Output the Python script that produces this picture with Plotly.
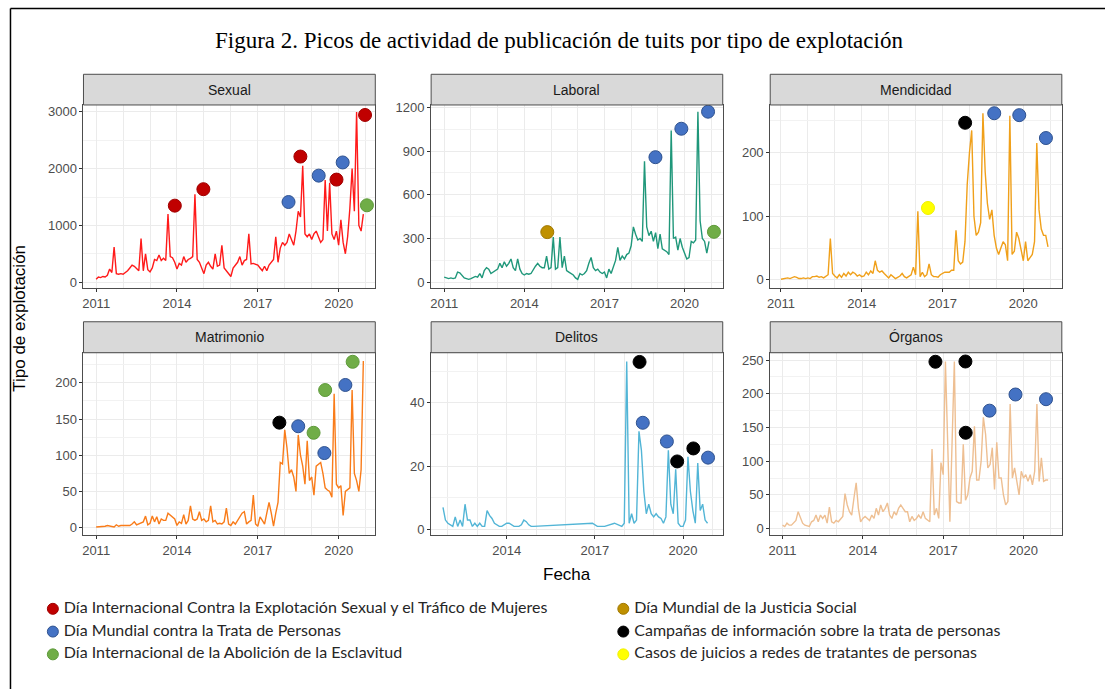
import plotly.graph_objects as go

# ---------------- DATA ----------------
title_text = "Figura 2. Picos de actividad de publicación de tuits por tipo de explotación"
panel_names = ["Sexual", "Laboral", "Mendicidad", "Matrimonio", "Delitos", "Órganos"]
x_title = "Fecha"
y_title = "Tipo de explotación"
year_ticks = [2011, 2014, 2017, 2020]
start_year = 2011  # monthly series start in January 2011 (120 months)

sexual = [
    50, 90, 80, 100, 90, 120, 230, 170, 620, 150, 140, 150,
    140, 170, 200, 250, 300, 280, 230, 200, 770, 200, 500, 220,
    180, 250, 400, 380, 480, 380, 420, 380, 1200, 450, 430, 350,
    230, 330, 300, 450, 350, 400, 420, 450, 1550, 400, 350, 250,
    150, 300, 350, 280, 230, 500, 280, 300, 650, 250, 200, 170,
    100, 250, 300, 350, 450, 300, 380, 400, 850, 320, 330, 320,
    300, 250, 200, 280, 200, 300, 350, 400, 800, 350, 600, 700,
    650, 700, 850, 750, 650, 900, 1250, 1150, 2050, 850, 800, 850,
    750, 850, 900, 800, 700, 750, 1800, 900, 1750, 850, 750, 900,
    650, 1100, 700, 500, 800, 1300, 2000, 1250, 3000, 1000, 900, 1200,
]
laboral = [
    35, 30, 25, 30, 25, 30, 70, 65, 50, 30, 25, 20,
    25, 30, 40, 35, 60, 30, 80, 100, 90, 60, 70, 80,
    90, 130, 100, 140, 110, 130, 160, 100, 80, 160, 90, 60,
    50, 60, 55, 60, 90, 110, 130, 110, 100, 100, 180, 90,
    100, 310, 90, 100, 310, 100, 180, 80, 70, 60, 50, 30,
    20, 60, 50, 60, 80, 130, 170, 100, 80, 90, 70, 60,
    70, 30, 90, 60, 100, 150, 240, 150, 180, 160, 190, 200,
    250, 380, 330, 290, 300, 280, 830, 380, 320, 350, 280, 340,
    230, 330, 230, 220, 210, 190, 1040, 300, 310, 220, 300, 240,
    200, 160, 170, 280, 270, 290, 1170, 420, 300, 280, 200, 280,
]
mendicidad = [
    1, 2, 3, 3, 2, 3, 5, 4, 2, 2, 3, 2,
    3, 2, 5, 5, 6, 4, 5, 3, 5, 8, 65, 10,
    6, 3, 8, 4, 10, 6, 12, 8, 12, 10, 6, 8,
    5, 6, 12, 8, 14, 10, 30, 15, 12, 14, 10, 6,
    3, 8, 5, 2, 4, 6, 10, 5, 3, 5, 8, 20,
    8, 108, 5, 12, 5, 8, 25, 8, 5, 5, 4, 8,
    10, 12, 12, 12, 15, 15, 78, 30, 25, 28, 60, 150,
    200, 235, 100, 70, 75, 90, 262, 170, 120, 95, 110, 70,
    50, 40, 50, 60, 55, 30, 258, 40, 45, 75, 65, 50,
    30, 60, 30, 35, 40, 60, 215, 110, 80, 70, 70, 52,
]
matrimonio = [
    1, 1, 2, 1, 2, 3, 2, 2, 1, 4, 2, 3,
    3, 2, 3, 3, 5, 8, 4, 5, 6, 8, 16, 4,
    6, 16, 8, 15, 5, 12, 10, 10, 20, 17, 14, 12,
    3, 8, 6, 18, 5, 10, 30, 12, 10, 12, 22, 10,
    12, 8, 10, 30, 8, 10, 5, 6, 5, 8, 27, 5,
    3, 8, 5, 10, 15, 20, 22, 5, 8, 10, 45, 5,
    2, 15, 10, 5, 20, 35, 20, 2, 20, 35, 90, 88,
    135, 110, 75, 80, 70, 50, 128, 100, 85, 60, 120, 65,
    70, 45, 85, 88, 90, 75, 55, 52, 50, 42, 185, 60,
    55, 58, 17, 50, 52, 55, 190, 75, 65, 50, 80, 230,
]
organos = [
    5, 3, 8, 5, 5, 8, 12, 25, 15, 8, 5, 4,
    3, 10, 12, 20, 10, 20, 15, 20, 8, 32, 10, 8,
    12, 10, 15, 18, 52, 35, 25, 20, 45, 68, 30, 10,
    15, 18, 15, 12, 20, 15, 30, 20, 35, 25, 30, 38,
    20, 15, 25, 20, 30, 35, 30, 25, 25, 10, 18, 12,
    15, 20, 15, 25, 15, 12, 10, 118, 20, 30, 15, 98,
    80, 248, 130, 10, 130, 248, 40, 38, 38, 125, 42, 50,
    75, 85, 152, 72, 72, 100, 165, 140, 90, 95, 120, 58,
    128, 75, 75, 50, 35, 40, 185, 75, 90, 70, 50, 85,
    75, 80, 70, 80, 65, 85, 185, 70, 105, 70, 72, 72,
]
# Delitos has gaps: explicit months
delitos_months = [
    "2011-11", "2011-12", "2012-01", "2012-02", "2012-03", "2012-04", "2012-05", "2012-06",
    "2012-07", "2012-08", "2012-09", "2012-10", "2012-11", "2012-12", "2013-01", "2013-02",
    "2013-03", "2013-04", "2013-05", "2013-06", "2013-07", "2013-08", "2013-09", "2013-10",
    "2013-11", "2013-12", "2014-01", "2014-02", "2014-03", "2014-04", "2014-05", "2014-06",
    "2014-07", "2014-08", "2014-09", "2014-10", "2014-11", "2014-12", "2016-12", "2017-02",
    "2017-05", "2017-09", "2017-12", "2018-01", "2018-02", "2018-03", "2018-04", "2018-05",
    "2018-06", "2018-07", "2018-08", "2018-09", "2018-10", "2018-11", "2018-12", "2019-01",
    "2019-02", "2019-03", "2019-04", "2019-05", "2019-06", "2019-07", "2019-08", "2019-09",
    "2019-10", "2019-11", "2019-12", "2020-01", "2020-02", "2020-03", "2020-04", "2020-05",
    "2020-06", "2020-07", "2020-08", "2020-09", "2020-10", "2020-11",
]
delitos = [
    7, 3, 2, 1.5, 1, 4, 1, 3,
    1, 8, 3, 3, 1, 2, 1, 2,
    1, 1, 6, 4.5, 3.5, 2, 1.5, 1,
    1, 1.5, 2, 2, 1.5, 1, 1, 1,
    1.5, 3, 2.5, 1.5, 1, 1, 2, 1,
    1, 2, 1, 2, 53, 2, 5, 2,
    3, 31, 25, 12, 5, 8, 5, 4,
    5, 4, 3.5, 2, 4, 25, 8, 5,
    19, 2, 1, 1, 3, 23, 12, 6,
    2, 21, 6, 8, 3, 2,
]

# Event markers (decimal year, value, event code)
sexual_evt_x = [2013.92, 2014.98, 2018.14, 2018.58, 2019.26, 2019.92, 2020.15, 2020.98, 2021.05]
sexual_evt_y = [1348, 1638, 1412, 2213, 1877, 1807, 2109, 2946, 1354]
sexual_evt_t = ["EX", "EX", "TP", "EX", "TP", "EX", "TP", "EX", "AE"]

laboral_evt_x = [2014.86, 2018.91, 2019.88, 2020.88, 2021.10]
laboral_evt_y = [344, 858, 1053, 1170, 346]
laboral_evt_t = ["JS", "TP", "TP", "TP", "AE"]

mendicidad_evt_x = [2016.46, 2017.84, 2018.92, 2019.85, 2020.84]
mendicidad_evt_y = [113, 247, 262, 259, 223]
mendicidad_evt_t = ["CJ", "CI", "TP", "TP", "TP"]

matrimonio_evt_x = [2017.80, 2018.50, 2019.07, 2019.47, 2019.50, 2020.25, 2020.52]
matrimonio_evt_y = [145, 140, 131, 103, 190, 197, 229]
matrimonio_evt_t = ["CI", "TP", "AE", "TP", "AE", "TP", "AE"]

delitos_evt_x = [2018.52, 2018.63, 2019.45, 2019.80, 2020.35, 2020.85]
delitos_evt_y = [52.9, 33.7, 27.8, 21.5, 25.6, 22.7]
delitos_evt_t = ["CI", "TP", "TP", "CI", "CI", "TP"]

organos_evt_x = [2016.71, 2017.83, 2017.84, 2018.73, 2019.70, 2020.84]
organos_evt_y = [247.6, 248, 142.2, 175, 199, 192]
organos_evt_t = ["CI", "CI", "CI", "TP", "TP", "TP"]

event_codes = ["EX", "TP", "AE", "JS", "CI", "CJ"]
event_labels = [
    "Día Internacional Contra la Explotación Sexual y el Tráfico de Mujeres",
    "Día Mundial contra la Trata de Personas",
    "Día Internacional de la Abolición de la Esclavitud",
    "Día Mundial de la Justicia Social",
    "Campañas de información sobre la trata de personas",
    "Casos de juicios a redes de tratantes de personas",
]

# ---------------- STYLE ----------------
W, H = 1105, 691
line_colors = ["#FF1A1A", "#1F977A", "#F0A01A", "#F97C1A", "#52B5D6", "#EEBF92"]
event_fill = {"EX": "#C00000", "TP": "#4472C4", "AE": "#70AD47",
              "JS": "#BF9000", "CI": "#000000", "CJ": "#FFFF00"}
event_edge = {"EX": "#A00000", "TP": "#2F528F", "AE": "#5E9A3A",
              "JS": "#A07800", "CI": "#000000", "CJ": "#F0F000"}

col_px = [(80.7, 373.3), (429.3, 721.7), (769.3, 1061.7)]
row_plot_px = [(101.0, 286.0), (351.3, 535.7)]
row_strip_px = [(70.0, 101.0), (320.0, 351.3)]

x_ranges = [[2010.53, 2021.36], [2010.51, 2021.43], [2010.60, 2021.43],
            [2010.53, 2021.36], [2011.43, 2021.35], [2010.54, 2021.43]]
y_ranges = [[-105, 3122], [-40, 1216], [-13, 275],
            [-10.5, 241.5], [-1.8, 55.8], [-10, 261]]
y_major = [[0, 1000, 2000, 3000], [0, 300, 600, 900, 1200], [0, 100, 200],
           [0, 50, 100, 150, 200], [0, 20, 40], [0, 50, 100, 150, 200, 250]]
y_minor_step = [500, 150, 50, 25, 10, 25]

def fx(p):
    return p / W

def fy(p):
    return 1 - p / H

monthly_x = [start_year + i / 12 for i in range(120)]

def month_to_dec(s):
    y, m = s.split("-")
    return int(y) + (int(m) - 1) / 12

series_x = [monthly_x, monthly_x, monthly_x, monthly_x,
            [month_to_dec(s) for s in delitos_months], monthly_x]
series_y = [sexual, laboral, mendicidad, matrimonio, delitos, organos]
events = [(sexual_evt_x, sexual_evt_y, sexual_evt_t),
          (laboral_evt_x, laboral_evt_y, laboral_evt_t),
          (mendicidad_evt_x, mendicidad_evt_y, mendicidad_evt_t),
          (matrimonio_evt_x, matrimonio_evt_y, matrimonio_evt_t),
          (delitos_evt_x, delitos_evt_y, delitos_evt_t),
          (organos_evt_x, organos_evt_y, organos_evt_t)]

fig = go.Figure()
layout = dict(
    width=W, height=H, margin=dict(l=0, r=0, t=0, b=0),
    paper_bgcolor="white", plot_bgcolor="rgba(0,0,0,0)",
    showlegend=False, font=dict(family="Liberation Sans, Arial, sans-serif"),
)
shapes = []
annotations = []

tick_font = dict(family="Liberation Sans, Arial, sans-serif", size=13, color="#4D4D4D")
frame_col = "#4D4D4D"

for i in range(6):
    r, c = divmod(i, 3)
    ax = "" if i == 0 else str(i + 1)
    x0p, x1p = col_px[c]
    y0p, y1p = row_plot_px[r]
    lo, hi = y_ranges[i]
    minor_vals = [v for v in [k * y_minor_step[i] for k in range(-2, 40)] if lo < v < hi]
    year_vals = [y for y in range(2009, 2024) if x_ranges[i][0] < y < x_ranges[i][1]]
    layout["xaxis" + ax] = dict(
        domain=[fx(x0p), fx(x1p)], anchor="y" + ax, range=x_ranges[i],
        tickvals=[t for t in year_ticks if x_ranges[i][0] < t < x_ranges[i][1]],
        ticktext=[str(t) for t in year_ticks if x_ranges[i][0] < t < x_ranges[i][1]],
        ticks="outside", ticklen=3, tickwidth=1, tickcolor="#333333",
        tickfont=tick_font, showgrid=True, gridcolor="#EBEBEB", gridwidth=1,
        minor=dict(tickvals=year_vals, showgrid=True, gridcolor="#EBEBEB", gridwidth=1, ticks=""),
        showline=True, mirror=True, linecolor=frame_col, linewidth=1,
        zeroline=False, fixedrange=True,
    )
    layout["yaxis" + ax] = dict(
        domain=[fy(y1p), fy(y0p)], anchor="x" + ax, range=y_ranges[i],
        tickvals=y_major[i], ticktext=[str(v) for v in y_major[i]],
        ticks="outside", ticklen=3, tickwidth=1, tickcolor="#333333",
        tickfont=tick_font, showgrid=True, gridcolor="#EBEBEB", gridwidth=1,
        minor=dict(tickvals=minor_vals, showgrid=True, gridcolor="#F2F2F2", gridwidth=0.8, ticks=""),
        showline=True, mirror=True, linecolor=frame_col, linewidth=1,
        zeroline=False, fixedrange=True,
    )
    # strip
    s0, s1 = row_strip_px[r]
    shapes.append(dict(type="rect", xref="paper", yref="paper",
                       x0=fx(x0p), x1=fx(x1p), y0=fy(s1), y1=fy(s0),
                       fillcolor="#D9D9D9", line=dict(color=frame_col, width=1)))
    annotations.append(dict(text=panel_names[i], xref="paper", yref="paper",
                            x=fx((x0p + x1p) / 2), y=fy((s0 + s1) / 2),
                            showarrow=False, xanchor="center", yanchor="middle",
                            font=dict(size=14, color="#1A1A1A",
                                      family="Liberation Sans, Arial, sans-serif")))
    # line
    fig.add_trace(go.Scatter(x=series_x[i], y=series_y[i], mode="lines",
                             line=dict(color=line_colors[i], width=1.4),
                             xaxis="x" + ax, yaxis="y" + ax, hoverinfo="skip"))
    # event markers
    ex, ey, et = events[i]
    for code in event_codes:
        xs = [x for x, t in zip(ex, et) if t == code]
        ys = [y for y, t in zip(ey, et) if t == code]
        if not xs:
            continue
        fig.add_trace(go.Scatter(x=xs, y=ys, mode="markers",
                                 marker=dict(size=13, color=event_fill[code],
                                             line=dict(color=event_edge[code], width=1)),
                                 xaxis="x" + ax, yaxis="y" + ax, cliponaxis=False,
                                 hoverinfo="skip"))

# legend drawn on an auxiliary pixel-mapped axis
layout["xaxis7"] = dict(domain=[0, 1], anchor="y7", range=[0, W], visible=False, fixedrange=True)
layout["yaxis7"] = dict(domain=[0, 1], anchor="x7", range=[H, 0], visible=False, fixedrange=True)
leg_col_x = [50, 622]
leg_row_y = [610, 633, 656]
leg_x, leg_y, leg_c = [], [], []
for k, code in enumerate(event_codes):
    col, row = divmod(k, 3)
    leg_x.append(leg_col_x[col])
    leg_y.append(leg_row_y[row])
    leg_c.append(event_fill[code])
fig.add_trace(go.Scatter(x=leg_x, y=leg_y, mode="markers", xaxis="x7", yaxis="y7",
                         marker=dict(size=11, color=leg_c,
                                     line=dict(color=[event_edge[c] for c in event_codes], width=1)),
                         cliponaxis=False, hoverinfo="skip"))
fig.add_trace(go.Scatter(x=[v + 11 for v in leg_x], y=leg_y, mode="text", xaxis="x7", yaxis="y7",
                         text=event_labels, textposition="middle right",
                         textfont=dict(family="Lato, Liberation Sans, sans-serif", size=16, color="#262626"),
                         cliponaxis=False, hoverinfo="skip"))

# titles
annotations.append(dict(text=title_text, xref="paper", yref="paper", x=fx(558), y=fy(36),
                        showarrow=False, xanchor="center", yanchor="middle",
                        font=dict(family="Liberation Serif, DejaVu Serif, serif", size=23, color="#000000")))
annotations.append(dict(text=y_title, xref="paper", yref="paper", x=fx(17), y=fy(316),
                        showarrow=False, xanchor="center", yanchor="middle", textangle=-90,
                        font=dict(size=17, color="#000000")))
annotations.append(dict(text=x_title, xref="paper", yref="paper", x=fx(566), y=fy(575),
                        showarrow=False, xanchor="center", yanchor="middle",
                        font=dict(size=17, color="#000000")))

# outer frame (left and top edges)
shapes.append(dict(type="line", xref="paper", yref="paper", x0=fx(7.5), x1=fx(7.5), y0=0, y1=fy(3.5),
                   line=dict(color="#000000", width=1.5)))
shapes.append(dict(type="line", xref="paper", yref="paper", x0=fx(7.5), x1=1, y0=fy(3.5), y1=fy(3.5),
                   line=dict(color="#000000", width=1.5)))

layout["shapes"] = shapes
layout["annotations"] = annotations
fig.update_layout(**layout)
fig.write_html("out.html", config={"displayModeBar": False},
               post_script="document.documentElement.style.margin='0';document.body.style.margin='0';"
                           "document.body.style.padding='0';document.body.style.overflow='hidden';")
